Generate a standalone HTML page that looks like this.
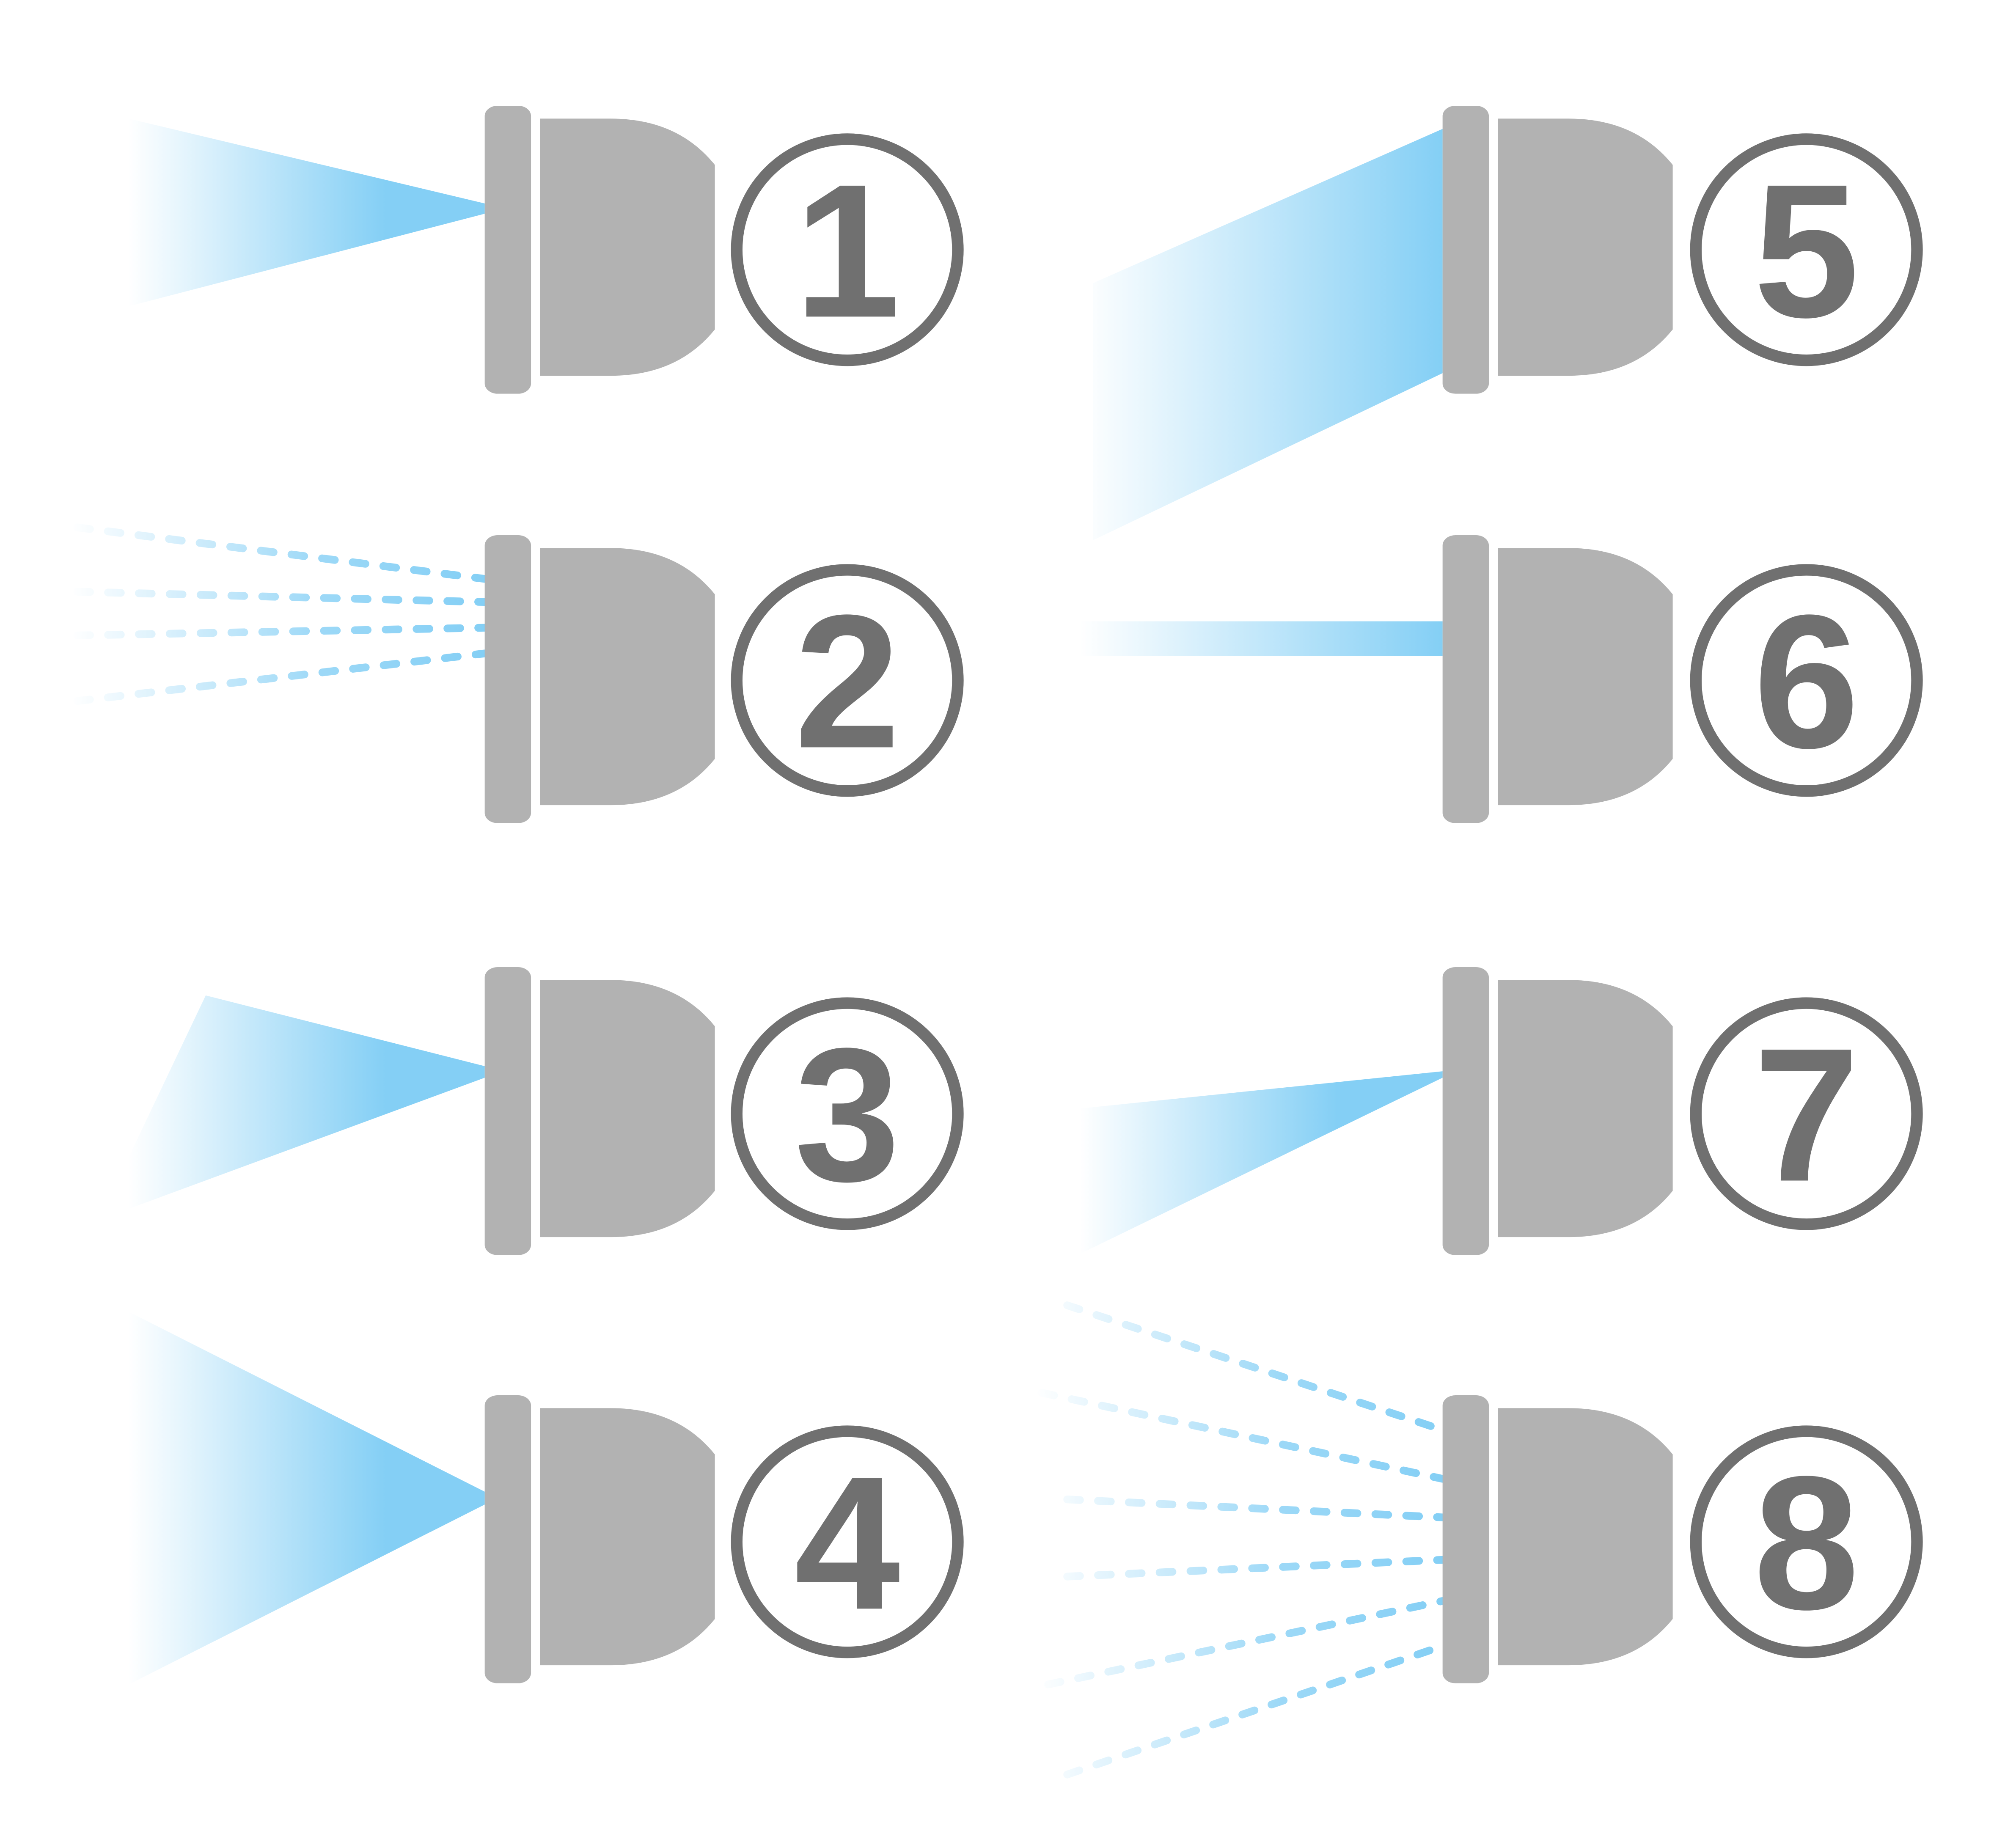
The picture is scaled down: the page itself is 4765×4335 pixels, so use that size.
<!DOCTYPE html>
<html><head><meta charset="utf-8"><style>html,body{margin:0;padding:0;background:#fff}svg{display:block}</style></head><body>
<svg width="4765" height="4335" viewBox="0 0 1568 1426" xmlns="http://www.w3.org/2000/svg">
<defs>
<linearGradient id="gL" x1="100" y1="0" x2="300" y2="0" gradientUnits="userSpaceOnUse"><stop offset="0" stop-color="#84cff5" stop-opacity="0"/><stop offset="1" stop-color="#84cff5"/></linearGradient>
<linearGradient id="gD" x1="55" y1="0" x2="377" y2="0" gradientUnits="userSpaceOnUse"><stop offset="0" stop-color="#84cff5" stop-opacity="0"/><stop offset="0.6" stop-color="#84cff5" stop-opacity="0.8"/><stop offset="1" stop-color="#84cff5"/></linearGradient>
<linearGradient id="gR" x1="840" y1="0" x2="1122" y2="0" gradientUnits="userSpaceOnUse"><stop offset="0" stop-color="#84cff5" stop-opacity="0"/><stop offset="1" stop-color="#84cff5"/></linearGradient>
<linearGradient id="g7" x1="840" y1="0" x2="1040" y2="0" gradientUnits="userSpaceOnUse"><stop offset="0" stop-color="#84cff5" stop-opacity="0"/><stop offset="1" stop-color="#84cff5"/></linearGradient>
<linearGradient id="gD8" x1="805" y1="0" x2="1122" y2="0" gradientUnits="userSpaceOnUse"><stop offset="0" stop-color="#84cff5" stop-opacity="0"/><stop offset="0.6" stop-color="#84cff5" stop-opacity="0.8"/><stop offset="1" stop-color="#84cff5"/></linearGradient>
<g id="noz">
<rect x="0" y="0" width="36" height="224" rx="10" ry="8" fill="#b2b2b2"/>
<path d="M43 10 H98 Q150 10 179 46 V174 Q150 210 98 210 H43 Z" fill="#b2b2b2"/>
</g>
</defs>
<polygon points="100,92 377,158 377,166 100,238" fill="url(#gL)"/>
<g stroke="url(#gD)" stroke-width="6" stroke-dasharray="10 14" stroke-linecap="round" fill="none">
<line x1="60" y1="410" x2="377" y2="450"/>
<line x1="60" y1="460" x2="377" y2="468"/>
<line x1="60" y1="494" x2="377" y2="488"/>
<line x1="60" y1="545" x2="377" y2="508"/>
</g>
<polygon points="160,774 377,829 377,838 100,940 100,900" fill="url(#gL)"/>
<polygon points="100,1020 377,1160 377,1170 100,1310" fill="url(#gL)"/>
<polygon points="850,220 1122,100 1122,290 850,420" fill="url(#gR)"/>
<rect x="830" y="483" width="292" height="27" fill="url(#gR)"/>
<polygon points="840,862 1122,833 1122,838 840,975" fill="url(#g7)"/>
<g stroke="url(#gD8)" stroke-width="6" stroke-dasharray="10 14" stroke-linecap="round" fill="none">
<line x1="830" y1="1015" x2="1122" y2="1112"/>
<line x1="810" y1="1083" x2="1122" y2="1150"/>
<line x1="830" y1="1166" x2="1122" y2="1180"/>
<line x1="830" y1="1226" x2="1122" y2="1213"/>
<line x1="815" y1="1310" x2="1122" y2="1245"/>
<line x1="830" y1="1380" x2="1122" y2="1280"/>
</g>
<use href="#noz" x="377" y="82"/>
<use href="#noz" x="377" y="416"/>
<use href="#noz" x="377" y="752"/>
<use href="#noz" x="377" y="1085"/>
<use href="#noz" x="1122" y="82"/>
<use href="#noz" x="1122" y="416"/>
<use href="#noz" x="1122" y="752"/>
<use href="#noz" x="1122" y="1085"/>
<g fill="#fff" stroke="#707070" stroke-width="9">
<circle cx="659" cy="194" r="86"/><circle cx="659" cy="529" r="86"/><circle cx="659" cy="866" r="86"/><circle cx="659" cy="1199" r="86"/>
<circle cx="1405" cy="194" r="86"/><circle cx="1405" cy="529" r="86"/><circle cx="1405" cy="866" r="86"/><circle cx="1405" cy="1199" r="86"/>
</g>
<g fill="#707070" font-family="'Liberation Sans',sans-serif" font-weight="bold" font-size="148" text-anchor="middle">
<text x="659" y="246">1</text><text x="659" y="581">2</text><text x="659" y="918">3</text><text x="659" y="1251">4</text>
<text x="1405" y="246">5</text><text x="1405" y="581">6</text><text x="1405" y="918">7</text><text x="1405" y="1251">8</text>
</g>
</svg>
</body></html>
